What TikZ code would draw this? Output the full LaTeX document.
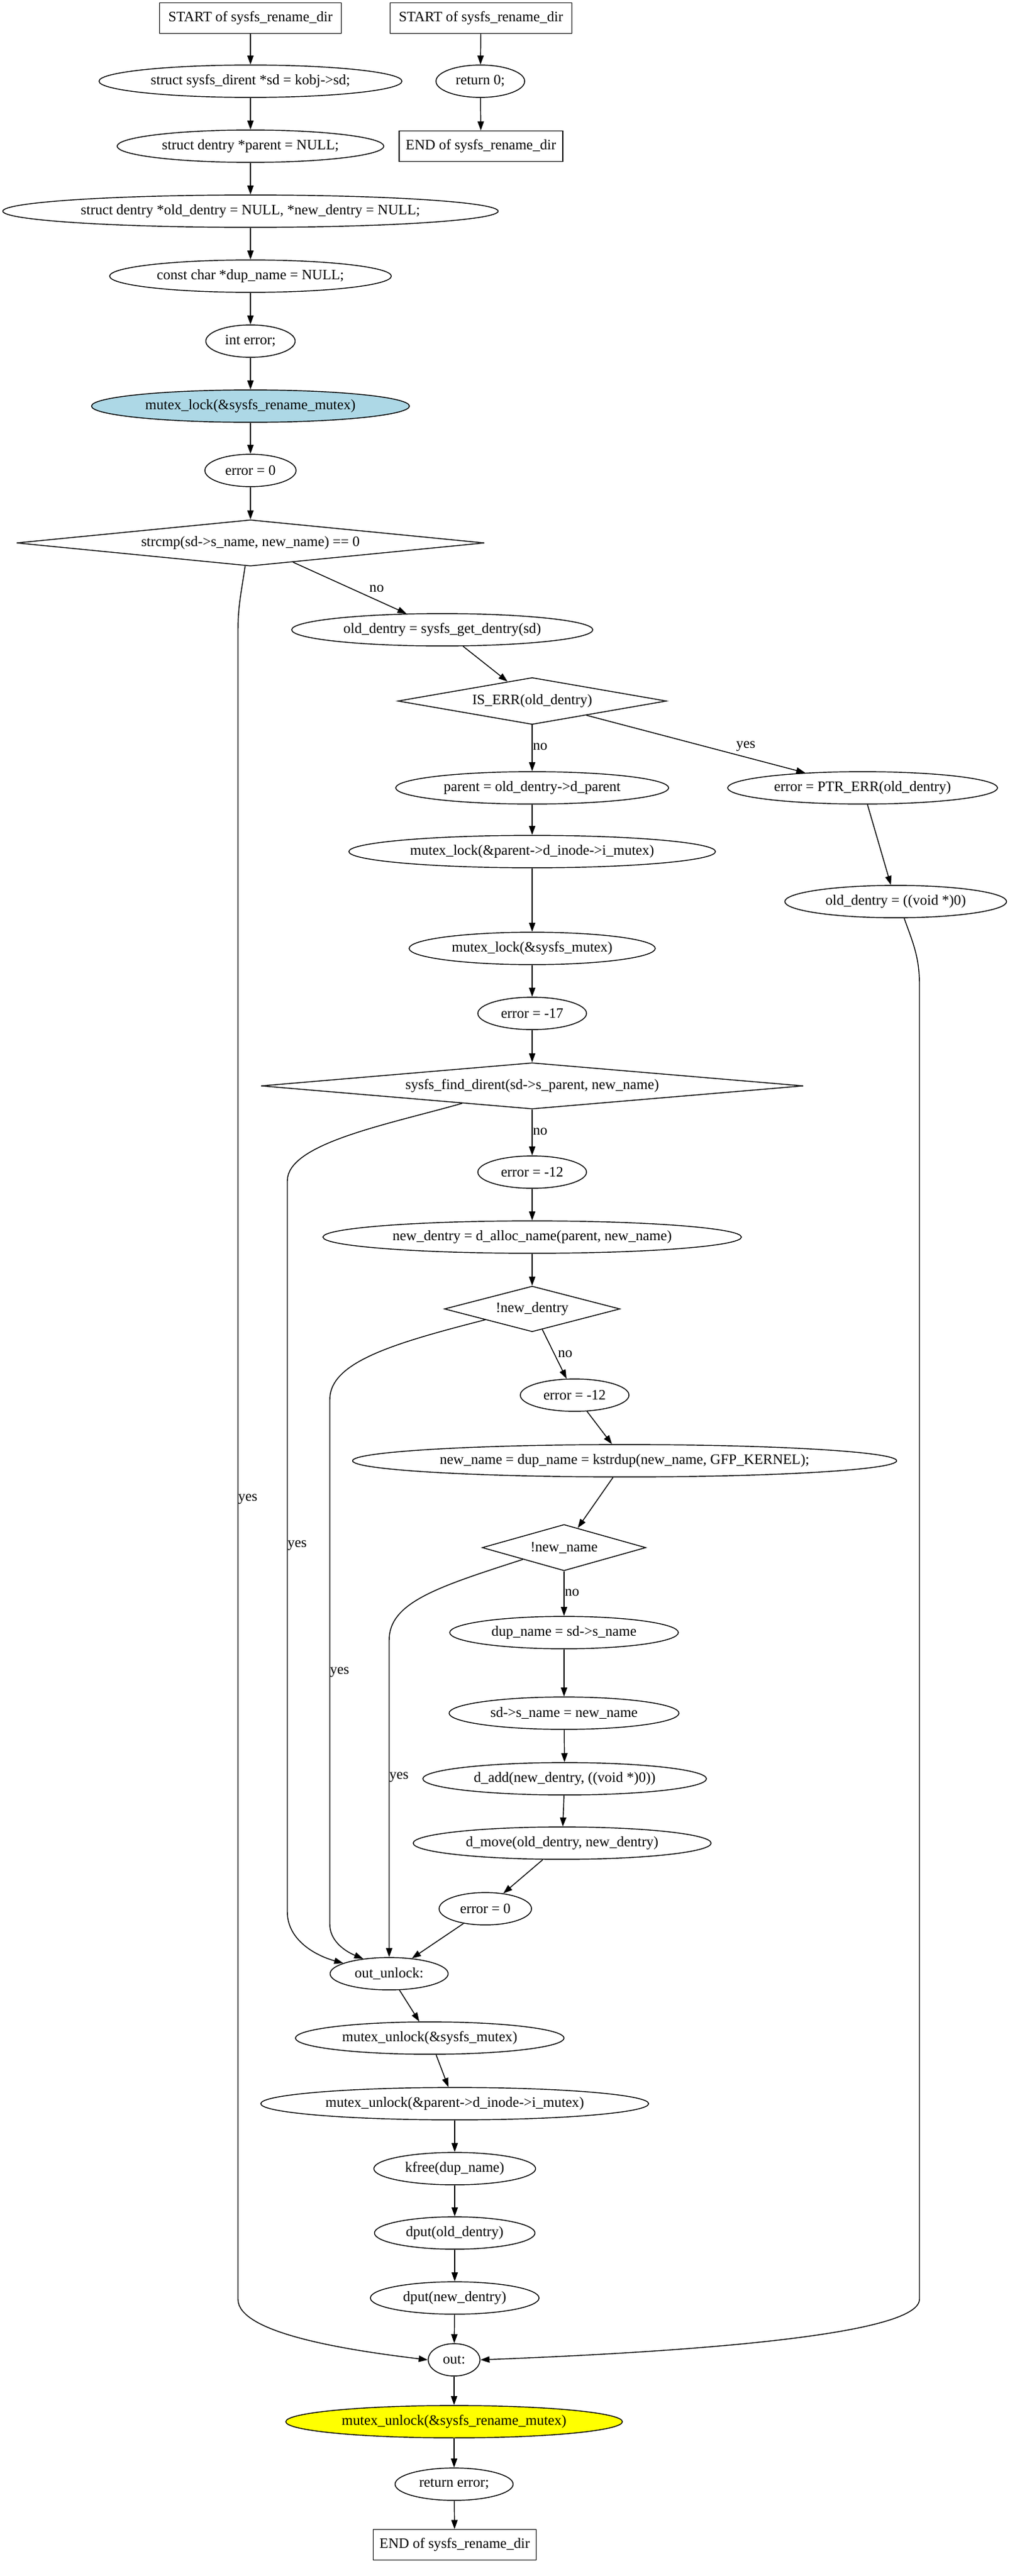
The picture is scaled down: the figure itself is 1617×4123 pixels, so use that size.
\documentclass[tikz,border=0pt]{standalone}
\usepackage{fontspec}
\setmainfont{Liberation Serif}
\usetikzlibrary{shapes.geometric,arrows.meta,calc}
\definecolor{lblue}{HTML}{ADD8E6}
\definecolor{yel}{HTML}{FFFF00}
\begin{document}
\begin{tikzpicture}[x=0.6944pt,y=-0.6944pt,
  every node/.style={font=\fontsize{16pt}{18pt}\selectfont},
  ell/.style={ellipse,draw,line width=1pt,minimum height=36pt,inner sep=0pt},
  ew/.style={minimum width=#1*0.6944pt},
  boxn/.style={rectangle,draw,line width=1pt,minimum height=34pt,inner sep=0pt},
  dia/.style={diamond,draw,line width=1pt,inner sep=0pt},
  dh/.style={minimum height=#1*0.6944pt},
  edge/.style={draw,line width=1pt,-{Triangle[length=10pt,width=7pt]}},
  lbl/.style={inner sep=0pt,anchor=west},
  lblc/.style={inner sep=0pt}
]
\useasboundingbox (0,0) rectangle (1617,4123);
% left column top
\node[boxn,ew=291] (s1) at (401,29) {START of sysfs\_rename\_dir};
\node[ell,ew=485] (n1) at (401,130) {struct sysfs\_dirent *sd = kobj->sd;};
\node[ell,ew=427] (n2) at (401,234) {struct dentry *parent = NULL;};
\node[ell,ew=793] (n3) at (401,338) {struct dentry *old\_dentry = NULL, *new\_dentry = NULL;};
\node[ell,ew=451] (n4) at (401,442) {const char *dup\_name = NULL;};
\node[ell,ew=143] (n5) at (401,546) {int error;};
\node[ell,ew=509,fill=lblue] (n6) at (401,650) {mutex\_lock(\&sysfs\_rename\_mutex)};
\node[ell,ew=146] (n7) at (401,753) {error = 0};
\node[dia,ew=749,dh=74,shape aspect=10] (d1) at (401,869) {strcmp(sd->s\_name, new\_name) == 0};
% right small cluster
\node[boxn,ew=291] (s2) at (770,29) {START of sysfs\_rename\_dir};
\node[ell,ew=142] (r1) at (769,130) {return 0;};
\node[boxn,ew=262] (e2) at (770,234) {END of sysfs\_rename\_dir};
% middle
\node[ell,ew=482] (n8) at (708,1008) {old\_dentry = sysfs\_get\_dentry(sd)};
\node[dia,ew=430,dh=75,shape aspect=6] (d2) at (852,1122) {IS\_ERR(old\_dentry)};
\node[ell,ew=437] (n9) at (852,1261) {parent = old\_dentry->d\_parent};
\node[ell,ew=432] (n10) at (1381,1261) {error = PTR\_ERR(old\_dentry)};
\node[ell,ew=587] (n11) at (852,1363) {mutex\_lock(\&parent->d\_inode->i\_mutex)};
\node[ell,ew=355] (n12) at (1434,1443) {old\_dentry = ((void *)0)};
\node[ell,ew=394] (n13) at (852,1518) {mutex\_lock(\&sysfs\_mutex)};
\node[ell,ew=174] (n14) at (852,1622) {error = -17};
\node[dia,ew=868,dh=74,shape aspect=12] (d3) at (852,1738) {sysfs\_find\_dirent(sd->s\_parent, new\_name)};
\node[ell,ew=174] (n15) at (852,1876) {error = -12};
\node[ell,ew=670] (n16) at (852,1980) {new\_dentry = d\_alloc\_name(parent, new\_name)};
\node[dia,ew=281,dh=73,shape aspect=4] (d4) at (852,2095) {!new\_dentry};
\node[ell,ew=174] (n17) at (920,2233) {error = -12};
\node[ell,ew=871] (n18) at (1000,2338) {new\_name = dup\_name = kstrdup(new\_name, GFP\_KERNEL);};
\node[dia,ew=262,dh=74,shape aspect=4] (d5) at (903,2477) {!new\_name};
\node[ell,ew=366] (n19) at (903,2613) {dup\_name = sd->s\_name};
\node[ell,ew=368] (n20) at (903,2742) {sd->s\_name = new\_name};
\node[ell,ew=454] (n21) at (904,2847) {d\_add(new\_dentry, ((void *)0))};
\node[ell,ew=477] (n22) at (900,2950) {d\_move(old\_dentry, new\_dentry)};
\node[ell,ew=148] (n23) at (777,3055) {error = 0};
\node[ell,ew=189] (n24) at (623,3159) {out\_unlock:};
\node[ell,ew=430] (n25) at (688,3262) {mutex\_unlock(\&sysfs\_mutex)};
\node[ell,ew=621] (n26) at (728,3367) {mutex\_unlock(\&parent->d\_inode->i\_mutex)};
\node[ell,ew=259] (n27) at (728,3471) {kfree(dup\_name)};
\node[ell,ew=257] (n28) at (728,3574) {dput(old\_dentry)};
\node[ell,ew=270] (n29) at (728,3678) {dput(new\_dentry)};
\node[ell,ew=83] (n30) at (727,3777) {out:};
\node[ell,ew=539,fill=yel] (n31) at (727,3876) {mutex\_unlock(\&sysfs\_rename\_mutex)};
\node[ell,ew=189] (n32) at (727,3976) {return error;};
\node[boxn,ew=261] (e1) at (728,4073) {END of sysfs\_rename\_dir};
% straight edges
\draw[edge] (s1) -- (n1);
\draw[edge] (n1) -- (n2);
\draw[edge] (n2) -- (n3);
\draw[edge] (n3) -- (n4);
\draw[edge] (n4) -- (n5);
\draw[edge] (n5) -- (n6);
\draw[edge] (n6) -- (n7);
\draw[edge] (n7) -- (d1);
\draw[edge] (s2) -- (r1);
\draw[edge] (r1) -- (e2);
\draw[edge] (d1) -- (n8);
\draw[edge] (n8) -- (d2);
\draw[edge] (d2) -- (n9);
\draw[edge] (d2) -- (n10);
\draw[edge] (n10) -- (n12);
\draw[edge] (n9) -- (n11);
\draw[edge] (n11) -- (n13);
\draw[edge] (n13) -- (n14);
\draw[edge] (n14) -- (d3);
\draw[edge] (d3) -- (n15);
\draw[edge] (n15) -- (n16);
\draw[edge] (n16) -- (d4);
\draw[edge] (d4) -- (n17);
\draw[edge] (n17) -- (n18);
\draw[edge] (n18) -- (d5);
\draw[edge] (d5) -- (n19);
\draw[edge] (n19) -- (n20);
\draw[edge] (n20) -- (n21);
\draw[edge] (n21) -- (n22);
\draw[edge] (n22) -- (n23);
\draw[edge] (n23) -- (n24);
\draw[edge] (n24) -- (n25);
\draw[edge] (n25) -- (n26);
\draw[edge] (n26) -- (n27);
\draw[edge] (n27) -- (n28);
\draw[edge] (n28) -- (n29);
\draw[edge] (n29) -- (n30);
\draw[edge] (n30) -- (n31);
\draw[edge] (n31) -- (n32);
\draw[edge] (n32) -- (e1);
% curved edges
\draw[edge] (d1.257) .. controls (386,950) and (381,970) .. (381,1010) -- (381,3680) .. controls (381,3735) and (560,3762) .. (n30.west);
\draw[edge] (n12.-63) .. controls (1460,1505) and (1472,1530) .. (1472,1575) -- (1472,3680) .. controls (1472,3745) and (1000,3768) .. (n30.east);
\draw[edge] (d3.194) .. controls (620,1800) and (460,1830) .. (460,1890) -- (460,3060) .. controls (460,3105) and (505,3130) .. (n24.167);
\draw[edge] (d4.193) .. controls (630,2150) and (528,2180) .. (528,2240) -- (528,3080) .. controls (528,3105) and (550,3122) .. (n24.150);
\draw[edge] (d5.196) .. controls (700,2540) and (623,2565) .. (623,2625) -- (n24.north);
% labels
\node[lblc] (l1) at (603,942) {no};
\node[lbl] (l2) at (853,1195) {no};
\node[lblc] (l3) at (1194,1195) {yes};
\node[lbl] (l4) at (853,1811) {no};
\node[lbl] (l5) at (893,2167) {no};
\node[lbl] (l6) at (904,2549) {no};
\node[lbl] (l7) at (381,2400) {yes};
\node[lbl] (l8) at (460,2474) {yes};
\node[lbl] (l9) at (528,2677) {yes};
\node[lbl] (l10) at (623,2845) {yes};
\end{tikzpicture}
\end{document}
